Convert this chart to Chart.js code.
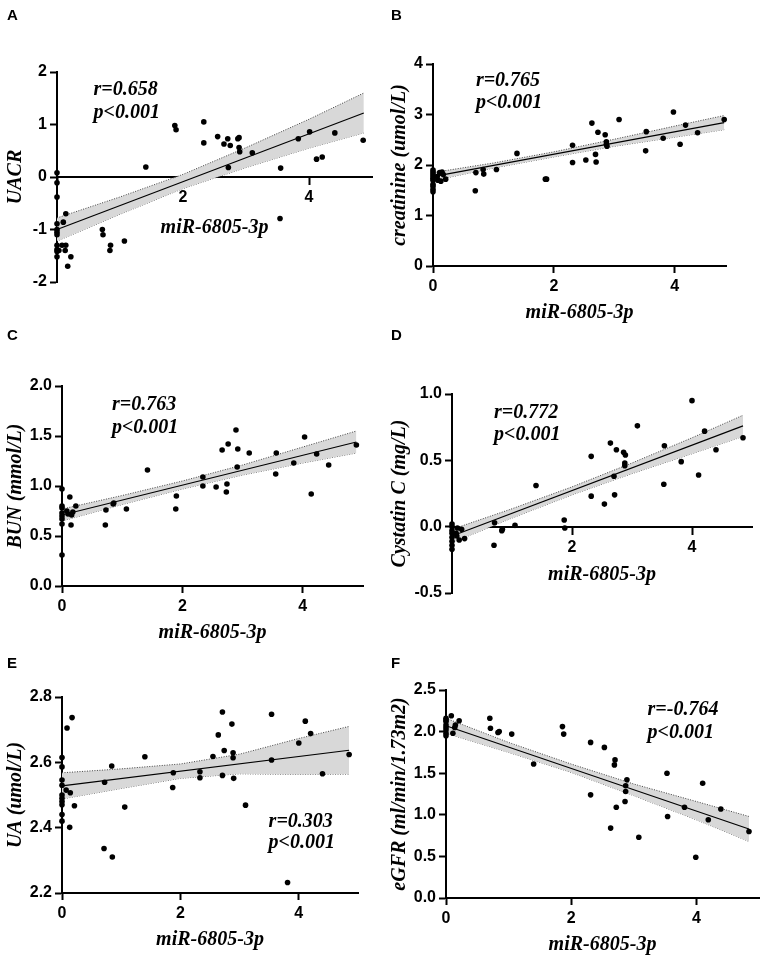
<!DOCTYPE html>
<html>
<head>
<meta charset="utf-8">
<script src="https://cdn.jsdelivr.net/npm/chart.js@4.4.0/dist/chart.umd.min.js"></script>
<style>
  body { margin: 0; background: #fff; }
  #fig { position: relative; width: 767px; height: 964px; background: #fff; overflow: hidden; }
  #fig canvas { position: absolute; }
  .letter { position: absolute; font: bold 15px "Liberation Sans", Arial, sans-serif; color: #000; }
</style>
</head>
<body>
<div id="fig">
  <canvas id="cA" width="384" height="330" style="left:0;top:0"></canvas>
  <canvas id="cB" width="383" height="335" style="left:384px;top:0"></canvas>
  <canvas id="cC" width="384" height="335" style="left:0;top:320px"></canvas>
  <canvas id="cD" width="383" height="330" style="left:384px;top:320px"></canvas>
  <canvas id="cE" width="384" height="324" style="left:0;top:640px"></canvas>
  <canvas id="cF" width="383" height="324" style="left:384px;top:640px"></canvas>
  <div class="letter" style="left:7px;top:6px">A</div>
  <div class="letter" style="left:391px;top:6px">B</div>
  <div class="letter" style="left:7px;top:326px">C</div>
  <div class="letter" style="left:391px;top:326px">D</div>
  <div class="letter" style="left:7px;top:654px">E</div>
  <div class="letter" style="left:391px;top:654px">F</div>
</div>
<script>
// x = miR-6805-3p, y = each kidney marker
const xTicks = [0, 2, 4];

const uacr = [[0,0.08],[0,-0.11],[0,-0.38],[0,-0.89],[0,-1.0],[0,-1.05],[0,-1.1],[0,-1.3],[0,-1.38],[0,-1.42],[0,-1.52],
  [0.03,-1.40],[0.08,-1.30],[0.10,-0.86],[0.13,-1.40],[0.14,-0.70],[0.14,-1.30],[0.17,-1.70],[0.22,-1.52],
  [0.72,-1.0],[0.73,-1.10],[0.84,-1.40],[0.85,-1.30],[1.07,-1.22],[1.41,0.19],[1.87,0.98],[1.89,0.90],
  [2.33,1.05],[2.33,0.65],[2.55,0.77],[2.65,0.63],[2.71,0.73],[2.72,0.18],[2.75,0.60],[2.87,0.73],[2.89,0.75],[2.89,0.56],[2.90,0.48],
  [3.10,0.46],[3.54,-0.79],[3.55,0.17],[3.83,0.73],[4.01,0.86],[4.12,0.34],[4.21,0.38],[4.41,0.84],[4.86,0.70]];
const creatinine = [[0,1.90],[0,1.86],[0,1.82],[0,1.78],[0,1.74],[0,1.70],[0,1.62],[0,1.58],[0,1.52],[0,1.47],
  [0.07,1.77],[0.08,1.70],[0.11,1.85],[0.13,1.68],[0.15,1.86],[0.17,1.81],[0.21,1.72],
  [0.70,1.49],[0.71,1.85],[0.83,1.91],[0.84,1.82],[1.05,1.91],[1.39,2.23],[1.86,1.72],[1.88,1.72],
  [2.31,2.39],[2.31,2.05],[2.53,2.10],[2.63,2.83],[2.69,2.21],[2.70,2.06],[2.73,2.65],[2.85,2.60],[2.87,2.46],[2.87,2.41],[2.88,2.37],
  [3.08,2.90],[3.52,2.28],[3.53,2.66],[3.81,2.53],[3.98,3.05],[4.09,2.41],[4.18,2.79],[4.38,2.64],[4.82,2.90]];
const bun = [[0,0.97],[0,0.80],[0,0.78],[0,0.73],[0,0.70],[0,0.67],[0,0.62],[0,0.31],
  [0.08,0.75],[0.10,0.72],[0.13,0.89],[0.15,0.61],[0.16,0.71],[0.18,0.74],[0.23,0.80],
  [0.72,0.61],[0.73,0.76],[0.85,0.82],[0.86,0.83],[1.07,0.77],[1.42,1.16],[1.89,0.77],[1.90,0.90],
  [2.34,1.09],[2.34,1.00],[2.56,0.99],[2.66,1.36],[2.73,0.94],[2.74,1.02],[2.76,1.42],[2.89,1.56],[2.91,1.19],[2.92,1.37],
  [3.11,1.33],[3.55,1.12],[3.56,1.33],[3.85,1.23],[4.03,1.49],[4.14,0.92],[4.23,1.32],[4.43,1.21],[4.89,1.41]];
const cystatin = [[0,0.02],[0,0.0],[0,-0.03],[0,-0.05],[0,-0.08],[0,-0.11],[0,-0.14],[0,-0.17],
  [0.07,-0.05],[0.08,-0.07],[0.09,-0.01],[0.12,-0.10],[0.16,-0.02],[0.21,-0.09],
  [0.70,-0.14],[0.71,0.03],[0.83,-0.03],[0.84,-0.02],[1.05,0.01],[1.40,0.31],[1.87,0.05],[1.88,-0.01],
  [2.32,0.53],[2.32,0.23],[2.54,0.17],[2.64,0.63],[2.70,0.38],[2.71,0.24],[2.74,0.58],[2.86,0.56],[2.88,0.48],[2.88,0.46],[2.89,0.54],
  [3.09,0.76],[3.53,0.32],[3.54,0.61],[3.82,0.49],[4.00,0.95],[4.11,0.39],[4.21,0.72],[4.40,0.58],[4.85,0.67]];
const ua = [[0,2.615],[0,2.586],[0,2.546],[0,2.53],[0,2.50],[0,2.49],[0,2.48],[0,2.47],[0,2.44],[0,2.42],
  [0.07,2.515],[0.085,2.705],[0.13,2.401],[0.14,2.507],[0.17,2.737],[0.21,2.467],
  [0.71,2.336],[0.72,2.539],[0.84,2.589],[0.85,2.310],[1.06,2.463],[1.40,2.617],[1.87,2.523],[1.88,2.568],
  [2.33,2.571],[2.33,2.553],[2.55,2.618],[2.64,2.684],[2.71,2.754],[2.71,2.56],[2.74,2.636],[2.87,2.717],[2.89,2.629],[2.89,2.614],[2.90,2.551],
  [3.10,2.469],[3.54,2.747],[3.54,2.607],[3.81,2.232],[4.00,2.659],[4.11,2.726],[4.20,2.688],[4.40,2.565],[4.85,2.624]];
const egfr = [[0,2.16],[0,2.14],[0,2.12],[0,2.08],[0,2.05],[0,2.02],[0,1.98],[0,1.95],
  [0.085,2.19],[0.11,1.98],[0.14,2.05],[0.15,2.08],[0.21,2.13],
  [0.70,2.16],[0.71,2.04],[0.83,1.99],[0.85,2.0],[1.05,1.97],[1.40,1.61],[1.86,2.06],[1.88,1.97],
  [2.31,1.87],[2.31,1.24],[2.53,1.81],[2.63,0.84],[2.69,1.60],[2.70,1.66],[2.72,1.09],[2.86,1.16],[2.87,1.28],[2.87,1.35],[2.89,1.42],
  [3.08,0.73],[3.53,1.50],[3.54,0.98],[3.81,1.09],[3.99,0.49],[4.10,1.38],[4.19,0.94],[4.39,1.07],[4.84,0.80]];

// regression line ends and 95% band
const bandXA = [0, 1, 2, 3, 4, 4.87];
const fitA = [-1.0, 1.22];
const upperA = [-0.78, -0.38, 0.05, 0.56, 1.10, 1.60];
const lowerA = [-1.22, -0.71, -0.22, 0.18, 0.55, 0.84];

const bandXB = [0, 1, 2, 3, 4, 4.82];
const fitB = [1.77, 2.84];
const upperB = [1.85, 2.04, 2.26, 2.51, 2.77, 2.98];
const lowerB = [1.69, 1.94, 2.16, 2.37, 2.55, 2.70];

const bandXC = [0, 1, 2, 3, 4, 4.89];
const fitC = [0.71, 1.44];
const upperC = [0.77, 0.905, 1.05, 1.21, 1.39, 1.55];
const lowerC = [0.65, 0.815, 0.97, 1.11, 1.23, 1.33];

const bandXD = [0, 1, 2, 3, 4, 4.85];
const fitD = [-0.07, 0.76];
const upperD = [-0.02, 0.135, 0.30, 0.48, 0.67, 0.84];
const lowerD = [-0.12, 0.065, 0.24, 0.40, 0.55, 0.68];

const bandXE = [0, 1, 2, 3, 4, 4.85];
const fitE = [2.528, 2.637];
const upperE = [2.568, 2.58, 2.595, 2.625, 2.673, 2.71];
const lowerE = [2.488, 2.52, 2.551, 2.565, 2.563, 2.564];

const bandXF = [0, 1, 2, 3, 4, 4.84];
const fitF = [2.07, 0.83];
const upperF = [2.16, 1.87, 1.61, 1.37, 1.16, 0.98];
const lowerF = [1.98, 1.75, 1.51, 1.23, 0.94, 0.68];

const yTicksA = [-2, -1, 0, 1, 2];
const yTicksB = [0, 1, 2, 3, 4];
const yTicksC = [0, 0.5, 1.0, 1.5, 2.0];
const yTicksD = [-0.5, 0, 0.5, 1.0];
const yTicksE = [2.2, 2.4, 2.6, 2.8];
const yTicksF = [0, 0.5, 1.0, 1.5, 2.0, 2.5];

const sans = '"Liberation Sans", Arial, sans-serif';
const serif = '"Liberation Serif", "Times New Roman", serif';

const statsPlugin = {
  id: 'stats',
  afterDatasetsDraw(chart, args, opts) {
    const {ctx, scales: {x, y}} = chart;
    ctx.save();
    ctx.font = 'italic bold 20px ' + serif;
    ctx.fillStyle = '#000';
    ctx.textAlign = 'left';
    ctx.textBaseline = 'middle';
    opts.lines.forEach(l => ctx.fillText(l[0], x.getPixelForValue(l[1]), y.getPixelForValue(l[2])));
    ctx.restore();
  }
};

const toXY = (xs, ys) => xs.map((x, i) => ({x, y: ys[i]}));

function axisLook() {
  return {
    grid: {display: true, drawOnChartArea: false, drawTicks: true, tickLength: 7, tickWidth: 2, tickColor: '#000'},
    border: {display: true, color: '#000', width: 2}
  };
}

function panel(id, c) {
  const bx = c.bandX;
  new Chart(document.getElementById(id), {
    type: 'scatter',
    data: {
      datasets: [
        {data: c.points.map(p => ({x: p[0], y: p[1]})), pointRadius: 2.8, pointBackgroundColor: '#000', pointBorderWidth: 0},
        {data: toXY([bx[0], bx[bx.length - 1]], c.fit), showLine: true, borderColor: '#000', borderWidth: 1.2, pointRadius: 0},
        {data: toXY(bx, c.upper), showLine: true, borderColor: '#444', borderWidth: 1, borderDash: [1, 1.5],
         pointRadius: 0, fill: '+1', backgroundColor: '#d8d8d8'},
        {data: toXY(bx, c.lower), showLine: true, borderColor: '#444', borderWidth: 1, borderDash: [1, 1.5], pointRadius: 0}
      ]
    },
    options: {
      responsive: false,
      animation: false,
      clip: false,
      layout: {padding: c.pad},
      plugins: {legend: {display: false}, tooltip: {enabled: false}, stats: {lines: c.stats}},
      scales: {
        x: {
          type: 'linear', min: 0, max: c.xMax,
          position: c.xAtZero ? {y: 0} : 'bottom',
          z: 1,
          afterBuildTicks: s => { s.ticks = xTicks.map(v => ({value: v})); },
          afterFit: s => { s.height = c.xH; },
          ...axisLook(),
          ticks: {color: '#000', padding: 4, maxRotation: 0, autoSkip: false,
                  font: {family: sans, size: 16, weight: 'bold'},
                  callback: v => (c.xAtZero && v === 0) ? '' : String(v)},
          title: {display: true, text: 'miR-6805-3p', color: '#000', padding: {top: 0, bottom: 4},
                  font: {family: serif, size: 20, weight: 'bold', style: 'italic'}}
        },
        y: {
          type: 'linear', min: c.yTicks[0], max: c.yTicks[c.yTicks.length - 1],
          afterBuildTicks: s => { s.ticks = c.yTicks.map(v => ({value: v})); },
          afterFit: s => { s.width = c.yW; },
          ...axisLook(),
          ticks: {color: '#000', padding: 3, font: {family: sans, size: 16, weight: 'bold'},
                  callback: v => v.toFixed(c.dec)},
          title: {display: true, text: c.yTitle, color: '#000', padding: {top: 4, bottom: 0},
                  font: {family: serif, size: 20, weight: 'bold', style: 'italic'}}
        }
      }
    },
    plugins: [statsPlugin]
  });
}

panel('cA', {points: uacr, bandX: bandXA, fit: fitA, upper: upperA, lower: lowerA, yTicks: yTicksA, dec: 0,
  yTitle: 'UACR', xMax: 5, xAtZero: true, xH: 67, yW: 57, pad: {top: 72, right: 12, bottom: 48, left: 0},
  stats: [['r=0.658', 0.58, 1.66], ['p<0.001', 0.58, 1.22]]});
panel('cB', {points: creatinine, bandX: bandXB, fit: fitB, upper: upperB, lower: lowerB, yTicks: yTicksB, dec: 0,
  yTitle: 'creatinine (umol/L)', xMax: 4.85, xAtZero: false, xH: 63, yW: 49, pad: {top: 64, right: 41, bottom: 6, left: 0},
  stats: [['r=0.765', 0.71, 3.66], ['p<0.001', 0.71, 3.23]]});
panel('cC', {points: bun, bandX: bandXC, fit: fitC, upper: upperC, lower: lowerC, yTicks: yTicksC, dec: 1,
  yTitle: 'BUN (mmol/L)', xMax: 5, xAtZero: false, xH: 63, yW: 62, pad: {top: 66, right: 21, bottom: 6, left: 0},
  stats: [['r=0.763', 0.83, 1.81], ['p<0.001', 0.83, 1.58]]});
panel('cD', {points: cystatin, bandX: bandXD, fit: fitD, upper: upperD, lower: lowerD, yTicks: yTicksD, dec: 1,
  yTitle: 'Cystatin C (mg/L)', xMax: 5, xAtZero: true, xH: 64, yW: 68, pad: {top: 74, right: 15, bottom: 57, left: 0},
  stats: [['r=0.772', 0.70, 0.86], ['p<0.001', 0.70, 0.69]]});
panel('cE', {points: ua, bandX: bandXE, fit: fitE, upper: upperE, lower: lowerE, yTicks: yTicksE, dec: 1,
  yTitle: 'UA (umol/L)', xMax: 5, xAtZero: false, xH: 63, yW: 62, pad: {top: 57, right: 26, bottom: 8, left: 0},
  stats: [['r=0.303', 3.49, 2.418], ['p<0.001', 3.49, 2.354]]});
panel('cF', {points: egfr, bandX: bandXF, fit: fitF, upper: upperF, lower: lowerF, yTicks: yTicksF, dec: 1,
  yTitle: 'eGFR (ml/min/1.73m2)', xMax: 5, xAtZero: false, xH: 63, yW: 62, pad: {top: 50, right: 8, bottom: 3, left: 0},
  stats: [['r=-0.764', 3.22, 2.26], ['p<0.001', 3.22, 1.99]]});
</script>
</body>
</html>
